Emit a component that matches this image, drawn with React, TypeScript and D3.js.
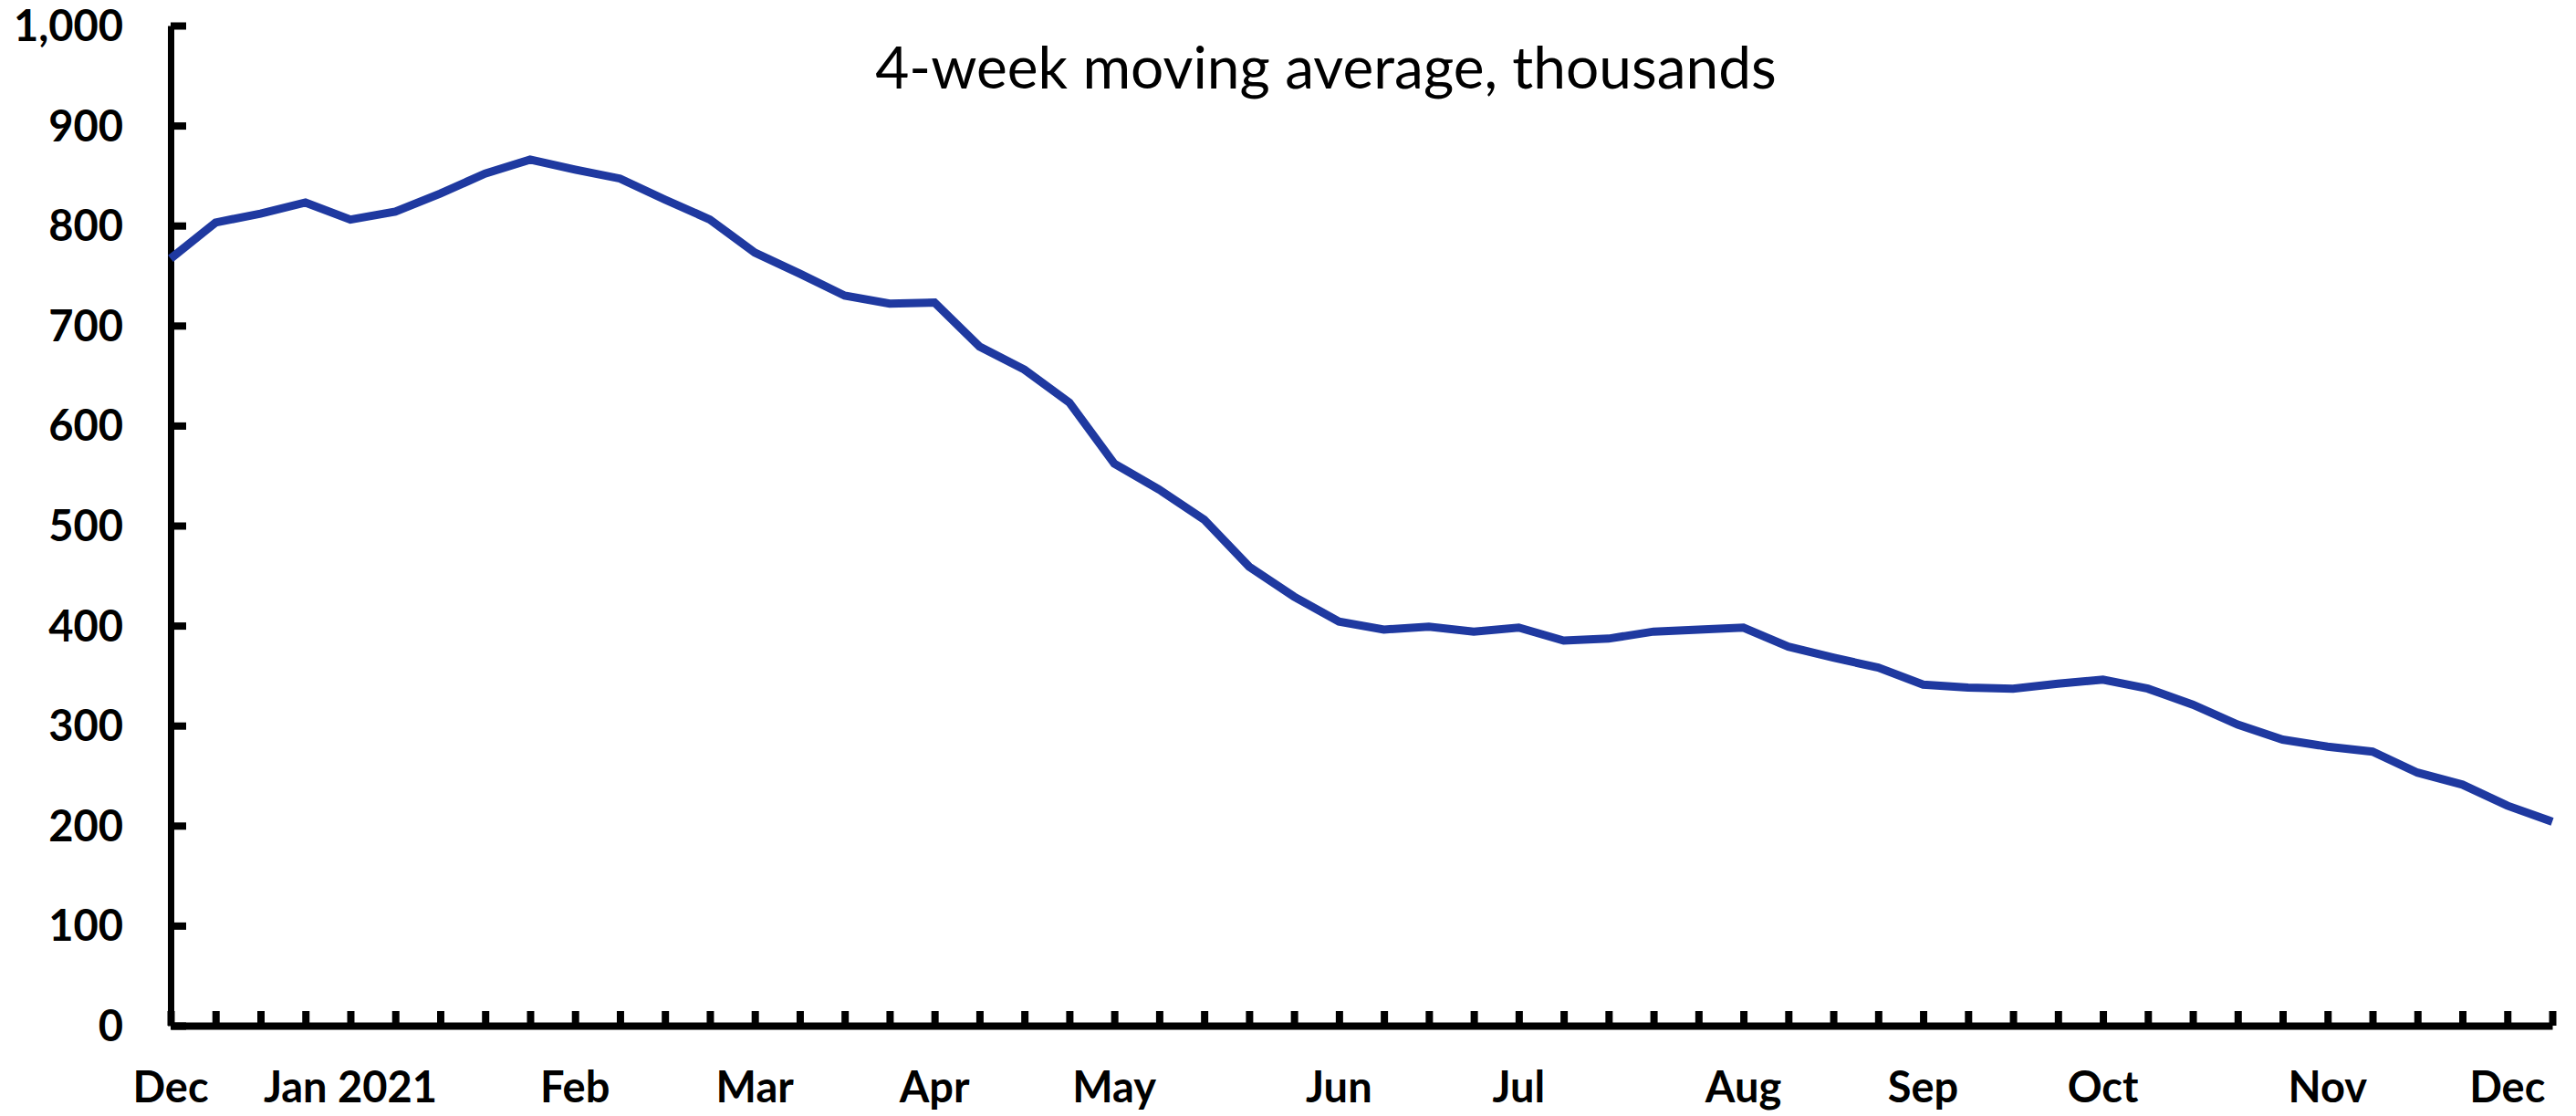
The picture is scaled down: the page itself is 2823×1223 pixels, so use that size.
import React, { useRef, useEffect } from 'react';
import * as d3 from 'd3';

// weekly values, 4-week moving average (thousands), week ending Dec 5 2020 .. Dec 11 2021
const claims = [
  767, 803, 812, 823, 806, 814, 832, 852, 866, 856,
  847, 826, 806, 773, 752, 730, 722, 723, 679, 656,
  623, 562, 536, 506, 459, 429, 404, 396, 399, 394,
  398, 385, 387, 394, 396, 398, 379, 368, 358, 341,
  338, 337, 342, 346, 337, 321, 301, 286, 279, 274,
  253, 241, 220, 204
];

const firstWeek = '2020-12-05';

const monthTicks = [
  { date: '2020-12-05', label: 'Dec' },
  { date: '2021-01-02', label: 'Jan 2021' },
  { date: '2021-02-06', label: 'Feb' },
  { date: '2021-03-06', label: 'Mar' },
  { date: '2021-04-03', label: 'Apr' },
  { date: '2021-05-01', label: 'May' },
  { date: '2021-06-05', label: 'Jun' },
  { date: '2021-07-03', label: 'Jul' },
  { date: '2021-08-07', label: 'Aug' },
  { date: '2021-09-04', label: 'Sep' },
  { date: '2021-10-02', label: 'Oct' },
  { date: '2021-11-06', label: 'Nov' },
  { date: '2021-12-04', label: 'Dec' }
];

const yTicks = [0, 100, 200, 300, 400, 500, 600, 700, 800, 900, 1000];

const subtitle = '4-week moving average, thousands';

function App() {
  const svgRef = useRef<SVGSVGElement | null>(null);

  useEffect(() => {
    const width = 2823;
    const height = 1223;
    const margin = { top: 28, right: 26, bottom: 99, left: 187 };
    const font = "Lato, 'Liberation Sans', sans-serif";

    const parse = d3.utcParse('%Y-%m-%d');
    const start = parse(firstWeek) as Date;
    const weeks = claims.map((_, i) => d3.utcDay.offset(start, i * 7));
    const data = claims.map((v, i) => ({ date: weeks[i], value: v }));

    const x = d3.scaleUtc()
      .domain([weeks[0], weeks[weeks.length - 1]])
      .range([margin.left, width - margin.right]);

    const y = d3.scaleLinear()
      .domain([0, 1000])
      .range([height - margin.bottom, margin.top]);

    const svg = d3.select(svgRef.current)
      .attr('width', width)
      .attr('height', height);
    svg.selectAll('*').remove();

    svg.append('rect')
      .attr('width', width)
      .attr('height', height)
      .attr('fill', '#ffffff');

    // subtitle
    svg.append('text')
      .attr('x', 1453)
      .attr('y', 97)
      .attr('text-anchor', 'middle')
      .style('font-family', font)
      .style('font-size', '64px')
      .attr('fill', '#000')
      .text(subtitle);

    // y axis
    const yAxis = d3.axisLeft(y)
      .tickValues(yTicks)
      .tickSizeInner(-17)
      .tickSizeOuter(0)
      .tickPadding(0)
      .tickFormat(() => '');
    const gy = svg.append('g')
      .attr('transform', `translate(${margin.left},0)`)
      .call(yAxis);
    gy.select('.domain').attr('stroke', '#000').attr('stroke-width', 7);
    gy.selectAll('.tick line').attr('stroke', '#000').attr('stroke-width', 8);

    svg.append('g')
      .selectAll('text')
      .data(yTicks)
      .enter()
      .append('text')
      .attr('x', 135)
      .attr('y', d => y(d) + 17)
      .attr('text-anchor', 'end')
      .style('font-family', font)
      .style('font-size', '47px')
      .style('font-weight', 700)
      .attr('fill', '#000')
      .text(d => d3.format(',')(d));

    // x axis, one tick per week
    const xAxis = d3.axisBottom(x)
      .tickValues(weeks)
      .tickSizeInner(-16)
      .tickSizeOuter(0)
      .tickFormat(() => '');
    const gx = svg.append('g')
      .attr('transform', `translate(0,${height - margin.bottom})`)
      .call(xAxis);
    gx.select('.domain').attr('stroke', '#000').attr('stroke-width', 8);
    gx.selectAll('.tick line').attr('stroke', '#000').attr('stroke-width', 8);

    svg.append('g')
      .selectAll('text')
      .data(monthTicks)
      .enter()
      .append('text')
      .attr('x', d => x(parse(d.date) as Date))
      .attr('y', 1208)
      .attr('text-anchor', 'middle')
      .style('font-family', font)
      .style('font-size', '47px')
      .style('font-weight', 700)
      .attr('fill', '#000')
      .text(d => d.label);

    // series
    const line = d3.line<{ date: Date; value: number }>()
      .x(d => x(d.date))
      .y(d => y(d.value));

    svg.append('path')
      .datum(data)
      .attr('fill', 'none')
      .attr('stroke', '#1f39a0')
      .attr('stroke-width', 9)
      .attr('stroke-linejoin', 'miter')
      .attr('d', line);
  }, []);

  return (
    <div style={{ position: 'absolute', left: 0, top: 0 }}>
      <svg ref={svgRef} style={{ display: 'block' }}></svg>
    </div>
  );
}

export default App;
